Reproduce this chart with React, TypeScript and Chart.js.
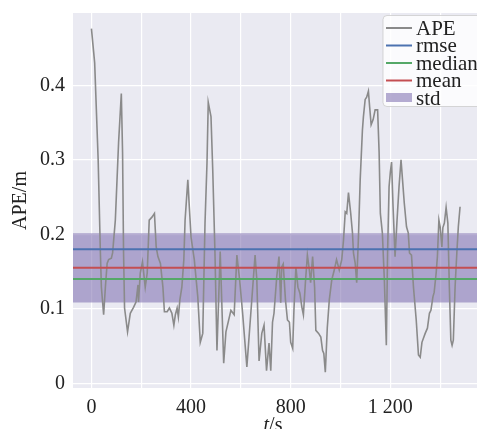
import React, { useEffect, useRef } from "react";
import { Chart, registerables } from "chart.js";

Chart.register(...registerables);

const tValues: number[] = [
  0, 13, 27, 36, 40, 49, 56, 63, 69, 80, 85, 96, 109, 120, 125, 129, 133, 145, 156, 169,
  179, 187, 189, 196, 205, 216, 224, 232, 243, 253, 260, 267, 277, 287, 293, 304, 313, 323, 331, 337,
  344, 349, 355, 363, 371, 376, 387, 393, 400, 413, 427, 437, 447, 456, 464, 469, 480, 487, 496, 504,
  517, 531, 540, 560, 573, 584, 595, 607, 624, 637, 657, 664, 673, 684, 693, 703, 713, 720, 727, 733,
  744, 753, 760, 764, 770, 779, 787, 795, 800, 808, 813, 821, 829, 837, 845, 851, 859, 867, 875, 880,
  888, 896, 901, 912, 921, 928, 933, 939, 947, 955, 965, 975, 984, 995, 1005, 1012, 1019, 1025, 1032, 1041,
  1048, 1052, 1059, 1065, 1072, 1079, 1088, 1092, 1099, 1105, 1112, 1117, 1123, 1131, 1139, 1149, 1155, 1160, 1168, 1176,
  1184, 1189, 1195, 1200, 1205, 1211, 1219, 1227, 1235, 1243, 1249, 1256, 1265, 1272, 1277, 1285, 1293, 1304, 1313, 1320,
  1327, 1340, 1349, 1357, 1363, 1371, 1376, 1384, 1389, 1395, 1400, 1407, 1411, 1417, 1424, 1431, 1437, 1443, 1448, 1453,
  1460, 1467, 1473, 1480,
];

const apeValues: number[] = [
  0.476, 0.43, 0.3, 0.175, 0.129, 0.092, 0.129, 0.161, 0.166, 0.168, 0.175, 0.219, 0.323, 0.389, 0.31, 0.175, 0.101, 0.069, 0.094, 0.102,
  0.109, 0.132, 0.109, 0.148, 0.163, 0.129, 0.148, 0.219, 0.223, 0.228, 0.183, 0.17, 0.161, 0.129, 0.096, 0.096, 0.101, 0.094, 0.078, 0.092,
  0.101, 0.089, 0.112, 0.129, 0.166, 0.219, 0.273, 0.237, 0.196, 0.166, 0.116, 0.055, 0.067, 0.215, 0.296, 0.377, 0.358, 0.287, 0.175, 0.044,
  0.177, 0.027, 0.069, 0.098, 0.092, 0.172, 0.139, 0.094, 0.022, 0.081, 0.172, 0.139, 0.03, 0.067, 0.078, 0.017, 0.054, 0.017, 0.082, 0.094,
  0.143, 0.17, 0.108, 0.156, 0.16, 0.112, 0.085, 0.082, 0.055, 0.047, 0.098, 0.156, 0.129, 0.121, 0.102, 0.092, 0.135, 0.172, 0.152, 0.135,
  0.17, 0.129, 0.071, 0.067, 0.062, 0.044, 0.04, 0.015, 0.075, 0.112, 0.139, 0.152, 0.166, 0.152, 0.166, 0.192, 0.23, 0.228, 0.256, 0.228,
  0.202, 0.175, 0.161, 0.135, 0.196, 0.273, 0.34, 0.358, 0.381, 0.384, 0.392, 0.371, 0.347, 0.354, 0.367, 0.367, 0.31, 0.228, 0.202, 0.139,
  0.051, 0.175, 0.264, 0.283, 0.297, 0.237, 0.17, 0.219, 0.264, 0.3, 0.273, 0.242, 0.21, 0.202, 0.175, 0.172, 0.129, 0.085, 0.038, 0.035,
  0.055, 0.067, 0.074, 0.094, 0.098, 0.116, 0.122, 0.148, 0.17, 0.219, 0.21, 0.183, 0.209, 0.215, 0.236, 0.215, 0.129, 0.058, 0.051, 0.058,
  0.129, 0.175, 0.21, 0.237,
];

const rmseValue = 0.18;
const medianValue = 0.14;
const meanValue = 0.155;
const stdValue = 0.0465;

const xTickValues: number[] = [0, 200, 400, 600, 800, 1000, 1200, 1400];
const xTickLabels: string[] = ["0", "", "400", "", "800", "", "1 200", ""];
const yTickValues: number[] = [0, 0.1, 0.2, 0.3, 0.4];
const yTickLabels: string[] = ["0", "0.1", "0.2", "0.3", "0.4"];

const legendLabels: string[] = ["APE", "rmse", "median", "mean", "std"];

const X_MIN = -74;
const X_MAX = 1548;
const Y_MIN = -0.0063;
const Y_MAX = 0.497;

const FONT = "'Liberation Serif', 'DejaVu Serif', serif";
const GRAY = "#8a8a8a";
const BLUE = "#4C72B0";
const GREEN = "#55A868";
const RED = "#C44E52";
const BAND = "rgba(129,114,178,0.58)";

export default function App() {
  const ref = useRef<HTMLCanvasElement | null>(null);

  useEffect(() => {
    const canvas = ref.current;
    if (!canvas) return;

    const bgPlugin = {
      id: "bgPlugin",
      beforeDraw(chart: any) {
        const { ctx, chartArea } = chart;
        ctx.save();
        ctx.fillStyle = "#ffffff";
        ctx.fillRect(0, 0, chart.width, chart.height);
        ctx.fillStyle = "#EAEAF2";
        ctx.fillRect(chartArea.left, chartArea.top, chartArea.right - chartArea.left, chartArea.bottom - chartArea.top);
        ctx.restore();
      },
      afterDraw(chart: any) {
        const { ctx, chartArea } = chart;
        ctx.save();
        ctx.fillStyle = "#222";
        ctx.font = `20px ${FONT}`;
        ctx.textAlign = "center";
        ctx.textBaseline = "middle";
        ctx.translate(21, (chartArea.top + chartArea.bottom) / 2);
        ctx.rotate(-Math.PI / 2);
        ctx.fillText("APE/m", 0, 0);
        ctx.restore();

        ctx.save();
        ctx.fillStyle = "#222";
        ctx.textBaseline = "top";
        ctx.font = `italic 20px ${FONT}`;
        const wT = ctx.measureText("t").width;
        ctx.font = `20px ${FONT}`;
        const wS = ctx.measureText("/s").width;
        const cx = (chartArea.left + chartArea.right) / 2 - 2;
        const x0 = cx - (wT + wS) / 2;
        const ty = 416;
        ctx.font = `italic 20px ${FONT}`;
        ctx.textAlign = "left";
        ctx.fillText("t", x0, ty);
        ctx.font = `20px ${FONT}`;
        ctx.fillText("/s", x0 + wT, ty);
        ctx.restore();

        ctx.save();
        const lx = 383;
        const ly = 15.5;
        const lw = 110;
        const lh = 91;
        const r = 4;
        ctx.beginPath();
        ctx.moveTo(lx + r, ly);
        ctx.lineTo(lx + lw - r, ly);
        ctx.arcTo(lx + lw, ly, lx + lw, ly + r, r);
        ctx.lineTo(lx + lw, ly + lh - r);
        ctx.arcTo(lx + lw, ly + lh, lx + lw - r, ly + lh, r);
        ctx.lineTo(lx + r, ly + lh);
        ctx.arcTo(lx, ly + lh, lx, ly + lh - r, r);
        ctx.lineTo(lx, ly + r);
        ctx.arcTo(lx, ly, lx + r, ly, r);
        ctx.closePath();
        ctx.fillStyle = "rgba(255,255,255,0.8)";
        ctx.fill();
        ctx.strokeStyle = "rgba(204,204,204,0.8)";
        ctx.lineWidth = 1;
        ctx.stroke();

        const colors = [GRAY, BLUE, GREEN, RED];
        const rowY = [28, 45.5, 63, 80.5, 98];
        ctx.font = `21px ${FONT}`;
        ctx.textBaseline = "middle";
        ctx.textAlign = "left";
        for (let i = 0; i < legendLabels.length; i++) {
          const y = rowY[i];
          if (i < 4) {
            ctx.strokeStyle = colors[i];
            ctx.lineWidth = 2;
            ctx.beginPath();
            ctx.moveTo(386, y);
            ctx.lineTo(412, y);
            ctx.stroke();
          } else {
            ctx.fillStyle = BAND;
            ctx.fillRect(386, y - 5, 26, 9);
          }
          ctx.fillStyle = "#222";
          ctx.fillText(legendLabels[i], 416, y + 1);
        }
        ctx.restore();
      },
    };

    const apeData = tValues.map((t, i) => ({ x: t, y: apeValues[i] }));
    const hline = (v: number) => [
      { x: X_MIN, y: v },
      { x: X_MAX, y: v },
    ];

    const chart = new Chart(canvas, {
      type: "line",
      data: {
        datasets: [
          {
            label: legendLabels[0],
            data: apeData,
            borderColor: GRAY,
            borderWidth: 1.6,
            pointRadius: 0,
            fill: false,
            tension: 0,
            order: 3,
          },
          {
            label: legendLabels[1],
            data: hline(rmseValue),
            borderColor: BLUE,
            borderWidth: 2,
            pointRadius: 0,
            fill: false,
            order: 2,
          },
          {
            label: legendLabels[2],
            data: hline(medianValue),
            borderColor: GREEN,
            borderWidth: 2,
            pointRadius: 0,
            fill: false,
            order: 1,
          },
          {
            label: legendLabels[3],
            data: hline(meanValue),
            borderColor: RED,
            borderWidth: 2,
            pointRadius: 0,
            fill: false,
            order: 0,
          },
          {
            label: legendLabels[4],
            data: hline(meanValue + stdValue),
            borderWidth: 0,
            borderColor: "rgba(0,0,0,0)",
            backgroundColor: BAND,
            fill: { value: meanValue - stdValue } as any,
            pointRadius: 0,
            order: 4,
          },
        ],
      },
      options: {
        animation: false,
        responsive: false,
        maintainAspectRatio: false,
        layout: { padding: { top: 13, right: 0, left: 0, bottom: 0 } },
        plugins: {
          legend: { display: false },
          tooltip: { enabled: false },
          title: { display: false },
        },
        scales: {
          x: {
            type: "linear",
            min: X_MIN,
            max: X_MAX,
            border: { display: false },
            grid: { color: "#ffffff", lineWidth: 1.2, drawTicks: false },
            ticks: {
              padding: 8,
              autoSkip: false,
              maxRotation: 0,
              color: "#222",
              font: { family: FONT, size: 20 },
              callback: (v: any) => {
                const i = xTickValues.indexOf(Number(v));
                return i >= 0 ? xTickLabels[i] : "";
              },
            },
            afterBuildTicks: (scale: any) => {
              scale.ticks = xTickValues.map((v) => ({ value: v }));
            },
            afterFit: (scale: any) => {
              scale.height = 41;
              scale.paddingLeft = 0;
              scale.paddingRight = 0;
              scale.paddingTop = 0;
              scale.paddingBottom = 0;
            },
          },
          y: {
            type: "linear",
            min: Y_MIN,
            max: Y_MAX,
            border: { display: false },
            grid: { color: "#ffffff", lineWidth: 1.2, drawTicks: false },
            ticks: {
              padding: 8,
              color: "#222",
              font: { family: FONT, size: 20 },
              callback: (v: any) => {
                const i = yTickValues.findIndex((t) => Math.abs(t - Number(v)) < 1e-9);
                return i >= 0 ? yTickLabels[i] : "";
              },
            },
            afterBuildTicks: (scale: any) => {
              scale.ticks = yTickValues.map((v) => ({ value: v }));
            },
            afterFit: (scale: any) => {
              scale.width = 73;
              scale.paddingTop = 0;
              scale.paddingBottom = 0;
              scale.paddingLeft = 0;
              scale.paddingRight = 0;
            },
          },
        },
      },
      plugins: [bgPlugin],
    });

    return () => chart.destroy();
  }, []);

  return (
    <div style={{ position: "fixed", left: 0, top: 0, width: 477, height: 429, background: "#fff" }}>
      <canvas ref={ref} width={477} height={429} style={{ display: "block", width: 477, height: 429 }} />
    </div>
  );
}
